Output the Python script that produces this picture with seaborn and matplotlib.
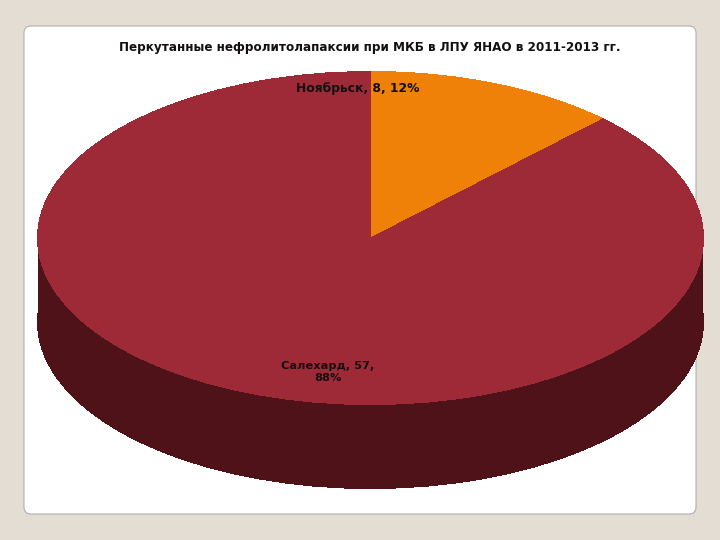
import matplotlib
matplotlib.use("Agg")
import matplotlib.pyplot as plt
from matplotlib.patches import FancyBboxPatch
import seaborn as sns

# Данные диаграммы
cities = ["Ноябрьск", "Салехард"]
counts = [8, 57]
shares = ["12%", "88%"]
title = "Перкутанные нефролитолапаксии при МКБ в ЛПУ ЯНАО в 2011-2013 гг."

top_colors = sns.color_palette(["#ef8008", "#9e2a38"])
side_color = "#4f1219"

sns.set_style("white")
plt.rcParams["font.family"] = ["DejaVu Sans"]

fig = plt.figure(figsize=(7.2, 5.4), dpi=100, facecolor="#e3ddd3")
ax = fig.add_axes([0, 0, 1, 1])

# Белая карточка
card = FancyBboxPatch(
    (30, 32), 660, 476,
    boxstyle="round,pad=6,rounding_size=7",
    facecolor="white", edgecolor="#b0b0aa", linewidth=0.8
)
ax.add_patch(card)

# Сжатие по вертикали: на 1 единицу радиуса по y приходится yscale пикселей
cx, cy, r = 370.5, 540 - 238, 333
depth = 84
yscale = 166.5 / r
flat = {"linewidth": 0, "antialiased": False}

# Боковая стенка: нижний эллипс и полоса между эллипсами
pie_ax = fig.add_axes([0, 0, 1, 1], facecolor="none")
pie_ax.pie(
    counts, radius=r, center=(cx, (cy - depth) / yscale),
    colors=[side_color, side_color], startangle=90, counterclock=False,
    frame=True, wedgeprops=flat
)
pie_ax.fill_between(
    [cx - r + 0.5, cx + r - 0.5], (cy - depth) / yscale, cy / yscale,
    color=side_color, linewidth=0
)
# Верхняя грань
pie_ax.pie(
    counts, radius=r, center=(cx, cy / yscale),
    colors=top_colors, startangle=90, counterclock=False,
    frame=True, wedgeprops=flat
)
pie_ax.set_aspect("auto")
pie_ax.set_xlim(0, 720)
pie_ax.set_ylim(0, 540 / yscale)
pie_ax.set_axis_off()

ax.set_xlim(0, 720)
ax.set_ylim(0, 540)
ax.set_axis_off()

text_color = "#141010"
fig.text(370 / 720, 1 - 47 / 540, title, ha="center", va="center",
         fontsize=8.65, fontweight="bold", color=text_color)
fig.text(357.5 / 720, 1 - 89 / 540, f"{cities[0]}, {counts[0]}, {shares[0]}",
         ha="center", va="center", fontsize=8.95, fontweight="bold", color=text_color)
fig.text(328 / 720, 1 - 372 / 540, f"{cities[1]}, {counts[1]},\n{shares[1]}",
         ha="center", va="center", fontsize=8.2, fontweight="bold", color=text_color,
         linespacing=1.15)

fig.savefig("out.png", dpi=100)
